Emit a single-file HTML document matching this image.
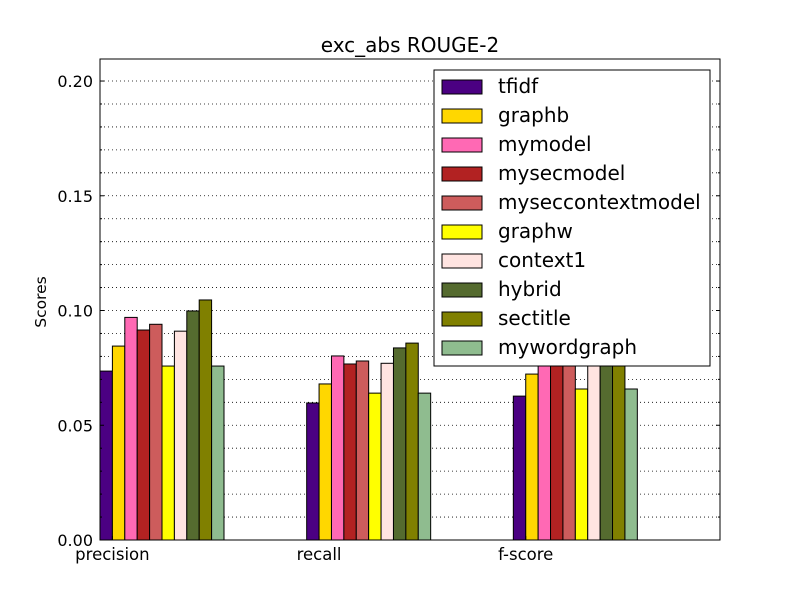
<!DOCTYPE html>
<html><head><meta charset="utf-8"><style>
body{margin:0;background:#fff;}
svg{display:block;font-family:"DejaVu Sans","Liberation Sans",sans-serif;}
</style></head><body>
<svg id="chart" width="800" height="600">
<rect width="800" height="600" fill="#fff"/>
<text x="410" y="52" font-size="20" text-anchor="middle">exc_abs ROUGE-2</text>
<text transform="translate(46,302) rotate(-90)" font-size="15.5" text-anchor="middle">Scores</text>
<g id="grid"></g><g id="bars"></g><g id="axes"></g><g id="legend"></g>
</svg>
<script>
const categories=["precision","recall","f-score"];
const seriesNames=["tfidf","graphb","mymodel","mysecmodel","myseccontextmodel","graphw","context1","hybrid","sectitle","mywordgraph"];
const colors=["#4b0082","#ffd700","#ff69b4","#b22222","#cd5c5c","#ffff00","#ffe4e1","#556b2f","#808000","#8fbc8f"];
const tfidf=[0.0736,0.0597,0.0627];
const graphb=[0.0845,0.068,0.0723];
const mymodel=[0.097,0.0802,0.085];
const mysecmodel=[0.0915,0.0767,0.082];
const myseccontextmodel=[0.094,0.078,0.083];
const graphw=[0.0758,0.064,0.0658];
const context1=[0.091,0.077,0.082];
const hybrid=[0.0998,0.0837,0.089];
const sectitle=[0.1046,0.0858,0.092];
const mywordgraph=[0.0758,0.064,0.0658];
const series=[tfidf,graphb,mymodel,mysecmodel,myseccontextmodel,graphw,context1,hybrid,sectitle,mywordgraph];
const yTicks=[0,0.05,0.1,0.15,0.2];
const yTickLabels=["0.00","0.05","0.10","0.15","0.20"];
const L=100,R=720,T=59,B=540,ymax=0.2096,xmax=3,bw=0.06;
const X=v=>L+v/xmax*(R-L), Y=v=>B-v/ymax*(B-T);
const NS="http://www.w3.org/2000/svg";
function mk(p,tag,at){const e=document.createElementNS(NS,tag);for(const k in at)e.setAttribute(k,at[k]);p.appendChild(e);return e;}
const grid=document.getElementById('grid'),bars=document.getElementById('bars'),axes=document.getElementById('axes'),leg=document.getElementById('legend');
for(let i=1;i<=20;i++){const y=Y(i*0.01);
const g=mk(grid,'line',{x1:L,x2:R,y1:y,y2:y,stroke:'#000','stroke-width':0.8,'stroke-dasharray':'1,3'});


mk(axes,'line',{x1:L,x2:L+(i%5?2:4),y1:y,y2:y,stroke:'#000'});mk(axes,'line',{x1:R,x2:R-(i%5?2:4),y1:y,y2:y,stroke:'#000'});}
series.forEach((s,si)=>{s.forEach((v,ci)=>{
const x0=X(ci+si*bw);const r=mk(bars,'rect',{x:x0,y:Y(v),width:X(ci+(si+1)*bw)-x0,height:B-Y(v),fill:colors[si],stroke:'#000','stroke-width':1});

});});
mk(axes,'rect',{x:L,y:T,width:R-L,height:B-T,fill:'none',stroke:'#000','stroke-width':1});
yTicks.forEach((t,i)=>{const e=mk(axes,'text',{x:L-7,y:Y(t)+6,'font-size':16,'text-anchor':'end'});e.textContent=yTickLabels[i];

});
categories.forEach((c,i)=>{const e=mk(axes,'text',{x:X(i+bw),y:B+20,'font-size':16.5,'text-anchor':'middle'});e.textContent=c;


mk(axes,'line',{x1:X(i+bw),x2:X(i+bw),y1:B,y2:B-4,stroke:'#000'});});
const lb=mk(leg,'rect',{x:434,y:70,width:276,height:296,fill:'#fff',stroke:'#000'});


seriesNames.forEach((n,i)=>{const y=87+i*29;
const g=mk(leg,'g',{});


mk(g,'rect',{x:442,y:y-7,width:40,height:14,fill:colors[i],stroke:'#000'});
const t=mk(g,'text',{x:498,y:y+6,'font-size':20});t.textContent=n;});
</script>
</body></html>
